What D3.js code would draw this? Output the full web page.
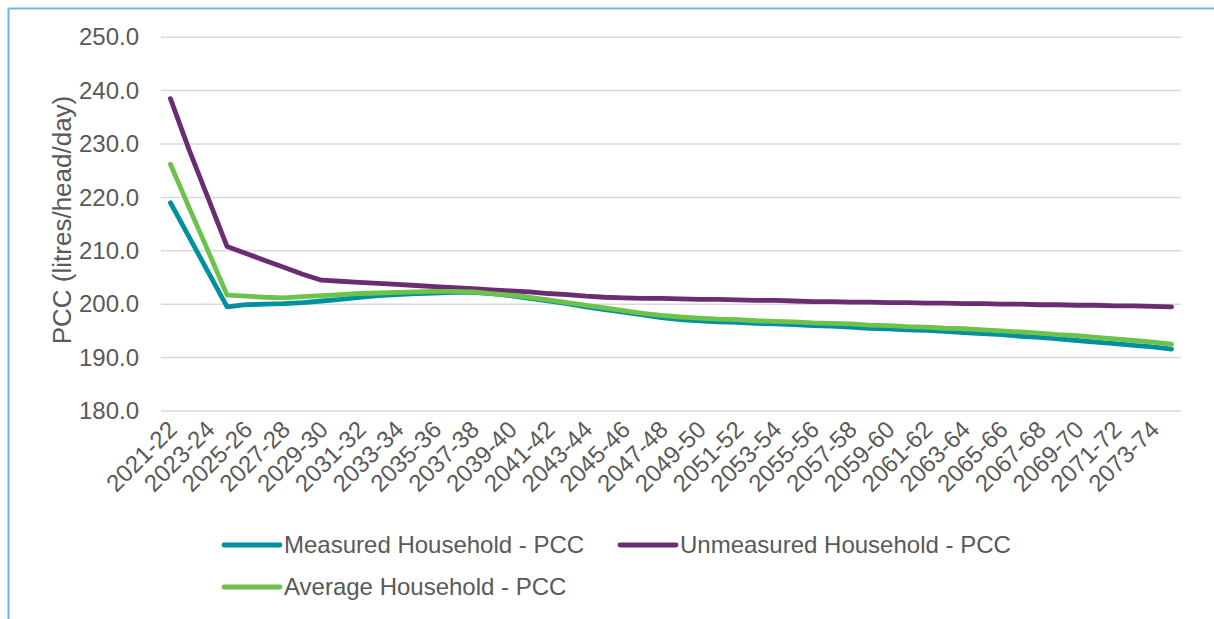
<!DOCTYPE html>
<html>
<head>
<meta charset="utf-8">
<script src="https://cdn.jsdelivr.net/npm/d3@7"></script>
<style>
  html, body { margin: 0; padding: 0; background: #ffffff; }
  svg { display: block; font-family: "Liberation Sans", Arial, sans-serif; }
</style>
</head>
<body>
<svg id="chart" width="1214" height="619"></svg>
<script>
// Financial years on the category axis
const years = [
  "2021-22","2022-23","2023-24","2024-25","2025-26","2026-27","2027-28","2028-29","2029-30","2030-31",
  "2031-32","2032-33","2033-34","2034-35","2035-36","2036-37","2037-38","2038-39","2039-40","2040-41",
  "2041-42","2042-43","2043-44","2044-45","2045-46","2046-47","2047-48","2048-49","2049-50","2050-51",
  "2051-52","2052-53","2053-54","2054-55","2055-56","2056-57","2057-58","2058-59","2059-60","2060-61",
  "2061-62","2062-63","2063-64","2064-65","2065-66","2066-67","2067-68","2068-69","2069-70","2070-71",
  "2071-72","2072-73","2073-74","2074-75"
];

// Per capita consumption, litres/head/day
const measuredPCC = [
  219.0, 212.5, 206.0, 199.5, 199.9, 200.0, 200.1, 200.3, 200.6, 200.9,
  201.3, 201.6, 201.8, 202.0, 202.1, 202.2, 202.2, 202.0, 201.6, 201.1,
  200.6, 200.1, 199.5, 199.0, 198.5, 198.0, 197.5, 197.1, 196.9, 196.7,
  196.6, 196.4, 196.3, 196.2, 196.0, 195.9, 195.7, 195.5, 195.4, 195.2,
  195.1, 194.9, 194.7, 194.5, 194.3, 194.0, 193.8, 193.5, 193.2, 192.9,
  192.6, 192.3, 192.0, 191.6
];
const unmeasuredPCC = [
  238.5, 228.8, 219.8, 210.8, 209.5, 208.2, 206.9, 205.6, 204.5, 204.3,
  204.1, 203.9, 203.7, 203.5, 203.3, 203.1, 202.9, 202.7, 202.5, 202.3,
  202.0, 201.8, 201.5, 201.3, 201.2, 201.1, 201.1, 201.0, 200.9, 200.9,
  200.8, 200.7, 200.7, 200.6, 200.5, 200.5, 200.4, 200.4, 200.3, 200.3,
  200.2, 200.2, 200.1, 200.1, 200.0, 200.0, 199.9, 199.9, 199.8, 199.8,
  199.7, 199.7, 199.6, 199.5
];
const averagePCC = [
  226.2, 218.0, 209.9, 201.7, 201.5, 201.3, 201.2, 201.4, 201.6, 201.8,
  202.0, 202.1, 202.2, 202.3, 202.4, 202.4, 202.3, 202.0, 201.7, 201.3,
  200.8, 200.3, 199.8, 199.3, 198.8, 198.3, 197.9, 197.6, 197.4, 197.2,
  197.1, 196.9, 196.8, 196.7, 196.5, 196.4, 196.3, 196.1, 196.0, 195.8,
  195.7, 195.5, 195.4, 195.2, 195.0, 194.8, 194.6, 194.3, 194.1, 193.8,
  193.5, 193.2, 192.9, 192.5
];

const yTicks = [180, 190, 200, 210, 220, 230, 240, 250];

const seriesNames = ["Measured Household - PCC", "Unmeasured Household - PCC", "Average Household - PCC"];
const seriesColors = ["#00909e", "#6b2c72", "#6cc24a"];

const svg = d3.select("#chart");
const textColor = "#595959";
const fontSize = 24;

// Outer frame (left and top edges)
svg.append("line").attr("x1", 8.5).attr("x2", 8.5).attr("y1", 8.5).attr("y2", 619)
  .attr("stroke", "#6bb8e8").attr("stroke-width", 2);
svg.append("line").attr("x1", 8.5).attr("x2", 1214).attr("y1", 8.5).attr("y2", 8.5)
  .attr("stroke", "#6bb8e8").attr("stroke-width", 2);

const plot = { left: 161, right: 1181, top: 37.2, bottom: 411 };

const x = d3.scaleBand().domain(years).range([plot.left, plot.right]).padding(0);
const cx = d => x(d) + x.bandwidth() / 2;
const y = d3.scaleLinear().domain([180, 250]).range([plot.bottom, plot.top]);

// Horizontal gridlines
svg.append("g").selectAll("line").data(yTicks).join("line")
  .attr("x1", plot.left).attr("x2", plot.right)
  .attr("y1", d => y(d)).attr("y2", d => y(d))
  .attr("stroke", "#d9d9d9").attr("stroke-width", 1.5);

// Y axis labels
const yAxis = d3.axisLeft(y).tickValues(yTicks).tickFormat(d3.format(".1f")).tickSize(0).tickPadding(0);
const gy = svg.append("g").attr("transform", `translate(139,0)`).call(yAxis);
gy.select(".domain").remove();
gy.selectAll("text").attr("fill", textColor).style("font-size", fontSize + "px")
  .style("font-family", '"Liberation Sans", Arial, sans-serif');

// Y axis title
svg.append("text")
  .attr("transform", `translate(71,220) rotate(-90)`)
  .attr("text-anchor", "middle")
  .attr("fill", textColor).style("font-size", "26px")
  .text("PCC (litres/head/day)");

// X axis labels, every second year
const xLabels = years.filter((d, i) => i % 2 === 0);
svg.append("g").selectAll("text").data(xLabels).join("text")
  .attr("transform", d => `translate(${cx(d) + 8},${plot.bottom + 20}) rotate(-45)`)
  .attr("text-anchor", "end")
  .attr("fill", textColor).style("font-size", fontSize + "px")
  .text(d => d);

// Series lines
const allSeries = [measuredPCC, unmeasuredPCC, averagePCC];
const line = d3.line().x((d, i) => cx(years[i])).y(d => y(d));
allSeries.forEach((vals, k) => {
  svg.append("path").datum(vals)
    .attr("d", line)
    .attr("fill", "none")
    .attr("stroke", seriesColors[k])
    .attr("stroke-width", 4.8)
    .attr("stroke-linejoin", "round")
    .attr("stroke-linecap", "round");
});

// Legend
const legendPos = [[224, 545], [620, 545], [224, 587]];
seriesNames.forEach((name, k) => {
  const [lx, ly] = legendPos[k];
  svg.append("line").attr("x1", lx).attr("x2", lx + 56).attr("y1", ly).attr("y2", ly)
    .attr("stroke", seriesColors[k]).attr("stroke-width", 4.8).attr("stroke-linecap", "round");
  svg.append("text").attr("x", lx + 60).attr("y", ly).attr("dy", "0.35em")
    .attr("fill", textColor).style("font-size", fontSize + "px")
    .text(name);
});
</script>
</body>
</html>
